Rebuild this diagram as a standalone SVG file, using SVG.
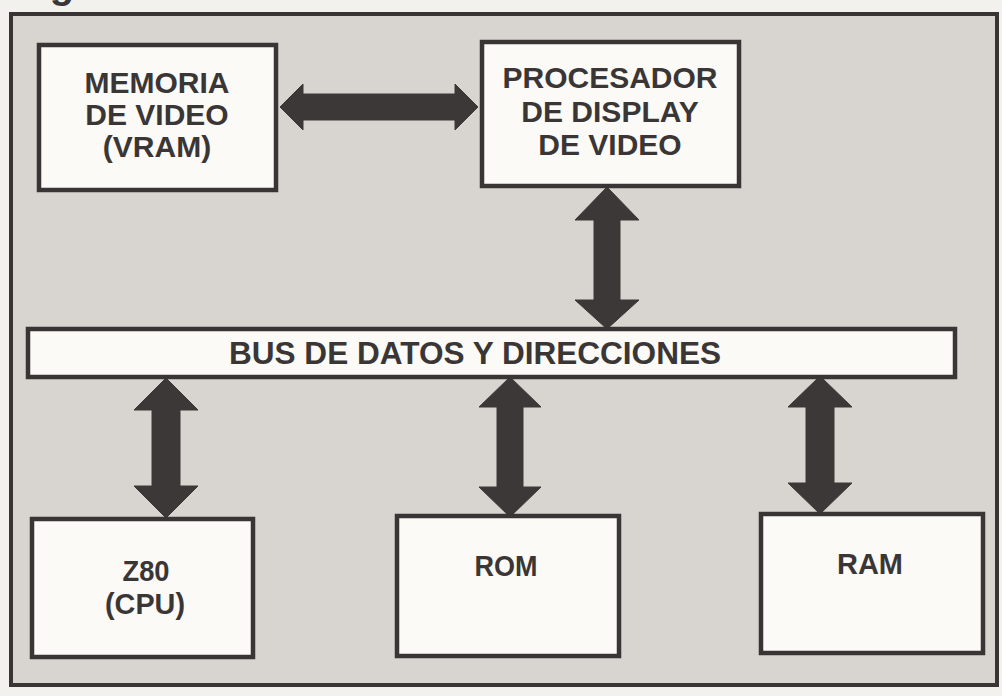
<svg xmlns="http://www.w3.org/2000/svg" width="1002" height="696" viewBox="0 0 1002 696">
<style>
.box{fill:#fbfaf7;stroke:#3a3535;stroke-width:4.5}
.lbl{font-family:"Liberation Sans",Arial,sans-serif;font-weight:bold;fill:#3a3636;text-anchor:middle}
.arr{fill:#3d3838;stroke:#3d3838;stroke-width:1;stroke-linejoin:miter}
</style>
<rect x="0" y="0" width="1002" height="696" fill="#f3f1ee"/>
<text x="62" y="-2" class="lbl" font-size="40">g</text>
<rect x="11" y="14" width="986" height="671" fill="#d8d5d1" stroke="#3a3535" stroke-width="4"/>
<g id="connectors">
<polygon class="arr" points="280,107 303,84 303,94 455,94 455,84 478,107 455,130 455,120 303,120 303,130"/>
<polygon class="arr" points="607,187 639,220 620,220 620,300 639,300 607,329 575,300 594,300 594,220 575,220"/>
<polygon class="arr" points="166,378 198,410 180,410 180,486 198,486 166,518 134,486 152,486 152,410 134,410"/>
<polygon class="arr" points="510,377 541,407 523,407 523,487 541,487 510,517 479,487 497,487 497,407 479,407"/>
<polygon class="arr" points="820,376 852,407 834,407 834,483 852,483 820,514 788,483 806,483 806,407 788,407"/>
</g>
<g id="vram">
<rect class="box" x="39" y="45" width="237" height="145"/>
<text class="lbl" font-size="30" x="157" y="93">MEMORIA</text>
<text class="lbl" font-size="30" x="157" y="125">DE VIDEO</text>
<text class="lbl" font-size="30" x="157" y="157">(VRAM)</text>
</g>
<g id="vdp">
<rect class="box" x="482" y="42" width="257" height="144"/>
<text class="lbl" font-size="30" x="610" y="88">PROCESADOR</text>
<text class="lbl" font-size="30" x="610" y="122">DE DISPLAY</text>
<text class="lbl" font-size="30" x="610" y="155">DE VIDEO</text>
</g>
<g id="bus">
<rect class="box" x="28" y="329" width="927" height="48" stroke-width="4"/>
<text class="lbl" font-size="31" x="475" y="364" textLength="492" lengthAdjust="spacingAndGlyphs">BUS DE DATOS Y DIRECCIONES</text>
</g>
<g id="z80">
<rect class="box" x="32" y="519" width="221" height="138"/>
<text class="lbl" font-size="29" x="146" y="581" textLength="47" lengthAdjust="spacingAndGlyphs">Z80</text>
<text class="lbl" font-size="29" x="145" y="614" textLength="80" lengthAdjust="spacingAndGlyphs">(CPU)</text>
</g>
<g id="rom">
<rect class="box" x="397" y="516" width="222" height="140"/>
<text class="lbl" font-size="29" x="506" y="576" textLength="63" lengthAdjust="spacingAndGlyphs">ROM</text>
</g>
<g id="ram">
<rect class="box" x="761" y="514" width="222" height="139"/>
<text class="lbl" font-size="29" x="870" y="574" textLength="66" lengthAdjust="spacingAndGlyphs">RAM</text>
</g>
</svg>
